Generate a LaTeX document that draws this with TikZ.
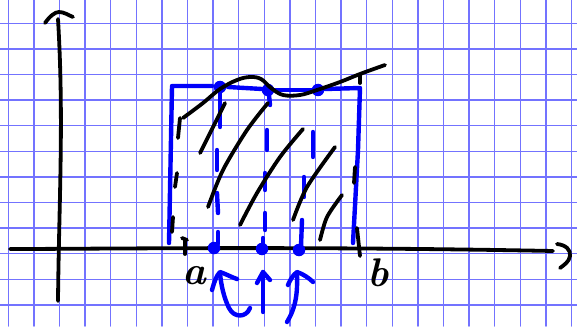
\documentclass[tikz,border=0pt]{standalone}
\definecolor{gridc}{RGB}{115,115,255}
\definecolor{pen}{RGB}{0,0,250}
\begin{document}
\begin{tikzpicture}[x=1pt,y=-1pt, line cap=round, line join=round,
  ink/.style={line width=3.8pt, black},
  bink/.style={line width=4.4pt, pen},
  gline/.style={line width=1.5pt, gridc},
  dot/.style={circle, fill=pen, inner sep=0pt, minimum size=12.5pt},
  lbl/.style={inner sep=0pt, font=\fontsize{40}{40}\selectfont\bfseries\itshape}]
\useasboundingbox (0,0) rectangle (577,326);
\fill[white] (0,0) rectangle (577,326);
% grid
\foreach \i in {0,...,22} \draw[gline] ({8.3+25.6*\i},0) -- ({8.3+25.6*\i},326);
\foreach \j in {0,...,11} \draw[gline] (0,{23.3+25.6*\j}) -- (577,{23.3+25.6*\j});
% axes
\draw[ink] (10,249) .. controls (100,249) and (300,246) .. (553,251);
\draw[ink] (557,244) .. controls (566,245) and (571,250) .. (570,256) .. controls (569,262) and (564,265) .. (560,268);
\draw[ink] (58,301) .. controls (59,200) and (64,120) .. (58,19);
\draw[ink] (45,23) .. controls (50,16) and (55,12) .. (59,12) .. controls (64,12) and (68,15) .. (73,17);
% ticks
\draw[ink] (182,238) -- (187,240);
\draw[ink] (185,240) -- (185,254);
% blue rectangle
\draw[bink] (169,243) -- (172,86) -- (212,86);
\draw[bink] (228,87) -- (262,89);
\draw[bink] (275,90) -- (312,90);
\draw[bink] (325,89) -- (360,88) -- (358,150) -- (353,243);
% dots
\node[dot] (t1) at (220,87) {};
\node[dot] (t2) at (268,90) {};
\node[dot] (t3) at (318,90) {};
\node[dot] (b1) at (214,248) {};
\node[dot] (b2) at (262,249) {};
\node[dot] (b3) at (299,250) {};
% blue dashed verticals
\draw[bink] (220,93) -- (220,127);
\draw[bink] (217,150) -- (217,170);
\draw[bink] (217,193) -- (218,213);
\draw[bink] (218,232) -- (218,244);
\draw[bink] (269,95) -- (270,105);
\draw[bink] (267,130) -- (267,150);
\draw[bink] (265,173) -- (265,190);
\draw[bink] (265,213) -- (265,230);
\draw[bink] (263,238) -- (263,246);
\draw[bink] (313,132) -- (313,157);
\draw[bink] (304,177) -- (304,197);
\draw[bink] (302,220) -- (301,246);
% black dashed sides
\draw[ink] (180,118) -- (178,138);
\draw[ink] (177,173) -- (175,187);
\draw[ink] (173,217) -- (172,232);
\draw[ink] (360,75) -- (360,83);
\draw[ink] (355,167) -- (354,183);
\draw[ink] (357,228) -- (360,256);
% function curve
\draw[ink] plot[smooth, tension=0.6] coordinates {(183,118) (203,103) (220,89) (237,80) (250,77) (261,79) (271,88) (283,95) (300,95) (317,90) (340,82) (360,74) (385,65)};
% hatching
\draw[ink] (200,153) -- (225,103);
\draw[ink] plot[smooth] coordinates {(208,207) (223,170) (247,130) (268,103)};
\draw[ink] plot[smooth] coordinates {(240,225) (257,193) (280,157) (303,129)};
\draw[ink] plot[smooth] coordinates {(293,220) (307,187) (335,147)};
\draw[ink] plot[smooth] coordinates {(320,240) (327,217) (342,195)};
% arrows below
\draw[bink] (250,308) .. controls (246,318) and (234,318) .. (229,308) .. controls (224,298) and (221,285) .. (220,273);
\draw[bink] (212,290) .. controls (214,283) and (216,276) .. (220,272) .. controls (226,274) and (231,277) .. (237,279);
\draw[bink] (263,312) -- (263,272);
\draw[bink] (257,283) -- (263,272) -- (270,280);
\draw[bink] (287,322) .. controls (293,312) and (298,300) .. (297,275);
\draw[bink] (288,285) .. controls (290,280) and (293,275) .. (297,272) .. controls (303,274) and (309,278) .. (313,282);
% labels
\node[lbl] (la) at (194,276) {a};
\node[lbl] (lb) at (378,273) {b};
\end{tikzpicture}
\end{document}
